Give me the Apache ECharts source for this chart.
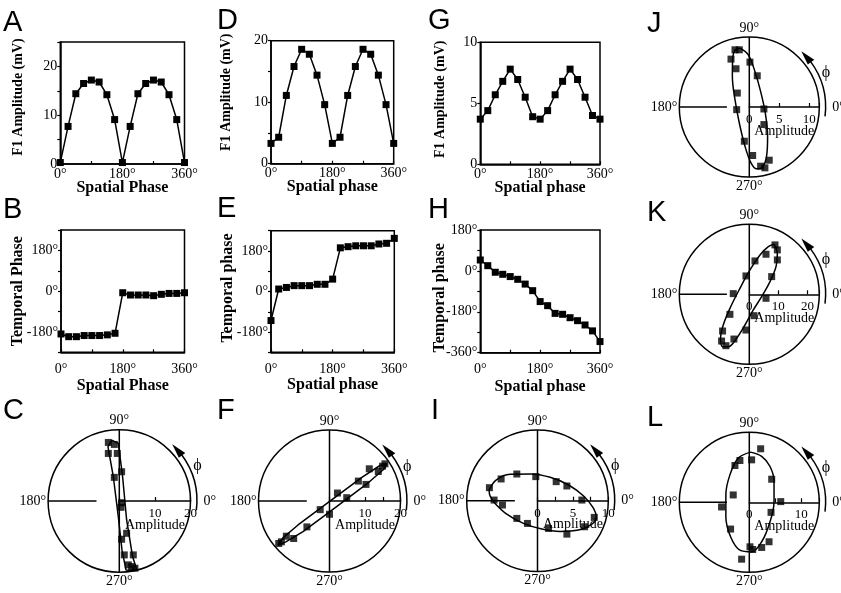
<!DOCTYPE html>
<html>
<head>
<meta charset="utf-8">
<script src="https://cdn.jsdelivr.net/npm/echarts@6/dist/echarts.min.js"></script>
<style>
  html, body { margin: 0; padding: 0; background: #fff; }
  #chart { width: 841px; height: 593px; }
</style>
</head>
<body>
<div id="chart"></div>
<script>
// ---------- data ----------
const spatialPhase = [0, 22.5, 45, 67.5, 90, 112.5, 135, 157.5, 180, 202.5, 225, 247.5, 270, 292.5, 315, 337.5, 360];

// F1 amplitude (mV) vs spatial phase
const ampA = [0.3, 7.7, 14.4, 16.5, 17.2, 16.8, 14.2, 9.1, 0.3, 7.7, 14.4, 16.5, 17.2, 16.8, 14.2, 9.1, 0.3];
const ampD = [3.3, 4.3, 11.1, 15.8, 18.6, 17.8, 14.4, 9.6, 3.3, 4.3, 11.1, 15.8, 18.6, 17.8, 14.4, 9.6, 3.3];
const ampG = [3.7, 4.4, 5.7, 6.8, 7.8, 6.95, 5.5, 3.9, 3.7, 4.4, 5.7, 6.8, 7.8, 6.95, 5.5, 4.0, 3.7];

// temporal phase (deg) vs spatial phase
const phaseB = [-189, -201, -201, -196, -196, -196, -193, -186, -7, -17, -17, -17, -20, -14, -10, -10, -7];
const phaseE = [-129, 11, 18, 26, 26, 26, 32, 32, 55, 194, 199, 203, 203, 203, 211, 214, 236];
const phaseH = [48, 23, -6, -15, -25, -37, -58, -87, -135, -153, -187, -191, -206, -219, -238, -264, -311];

// tick labels
const spatialTicks = [0, 180, 360];
const ampTicksA = [0, 10, 20];
const ampTicksD = [0, 10, 20];
const ampTicksG = [0, 5, 10];
const phaseTicksBE = [-180, 0, 180];
const phaseTicksH = [-360, -180, 0, 180];

// F1 response vectors: in-phase (X) and quadrature (Y) components, amplitude units
const cPtX = [-3.08, -1.40, -3.08, -0.56, 0.65, -1.40, 0.65, 0.47, 2.06, 0.65, 1.40, 3.93, 2.52, 3.46, 4.39];
const cPtY = [16.45, 15.89, 13.36, 13.36, 8.22, 6.64, -0.47, -1.78, -9.07, -10.75, -15.14, -15.14, -17.94, -18.41, -18.88];
const cFitX = [-2.15, -0.28, 0.93, 2.06, 3.74, 4.86, 3.55, 1.87, 0.75, -0.28, -1.68, -3.18, -2.15];
const cFitY = [17.10, 16.17, 6.82, -5.33, -15.61, -19.16, -19.53, -19.35, -13.74, -4.39, 6.82, 15.23, 17.10];

const fPtX = [-14.30, -13.55, -12.15, -10.09, -6.36, -2.62, 0.0, 2.24, 4.86, 8.13, 10.28, 11.21, 13.74, 14.95, 15.61];
const fPtY = [-11.96, -11.50, -9.91, -10.56, -7.29, -2.43, -3.74, 2.24, 0.93, 5.61, 4.67, 9.07, 8.32, 9.81, 10.47];
const fFitX = [-14.53, -13.14, -8.86, 0.13, 9.12, 14.22, 16.20, 15.12, 10.52, 1.53, -7.46, -12.30, -14.53];
const fFitY = [-12.43, -10.39, -6.75, -0.04, 6.67, 10.00, 10.49, 8.80, 4.80, -1.91, -8.62, -11.51, -12.43];

const iPtX = [-6.79, -5.14, -2.92, -0.24, 2.64, 4.15, 6.27, 8.02, 6.65, 4.15, 1.56, -1.42, -2.92, -4.95, -6.13];
const iPtY = [1.84, 3.07, 3.77, 3.40, 2.69, 2.08, 0.09, -2.36, -3.68, -4.72, -3.92, -3.21, -2.50, -0.61, 0.09];
const iFitX = [-6.84, -5.85, -3.87, -1.04, 1.79, 4.39, 6.51, 7.92, 8.30, 7.69, 5.80, 3.21, 0.61, -1.98, -4.34, -5.99, -6.70, -6.84];
const iFitY = [1.51, 2.92, 3.73, 3.77, 3.30, 2.22, 0.66, -1.08, -2.36, -3.30, -4.15, -4.34, -4.01, -3.21, -1.89, -0.38, 0.66, 1.51];

const jPtX = [-2.39, -1.67, -3.06, -2.22, 0.11, 1.33, -2.00, 2.44, -2.11, 2.44, -0.83, 0.56, 3.33, 1.89, 2.61];
const jPtY = [9.56, 9.56, 8.00, 6.39, 7.50, 5.22, 2.33, -0.33, -0.44, -2.94, -5.72, -8.11, -8.89, -9.89, -10.17];
const jFitX = [-1.56, -0.17, 0.94, 1.89, 2.67, 3.06, 2.89, 2.22, 1.22, 0.28, -0.72, -1.67, -2.39, -2.83, -2.78, -2.33, -1.56];
const jFitY = [9.83, 8.72, 5.94, 2.61, -1.00, -4.89, -8.22, -10.06, -10.33, -9.33, -6.56, -2.67, 1.22, 5.11, 8.17, 9.56, 9.83];

const kPtX = [8.85, 9.66, 9.66, 5.75, 1.95, 7.70, -1.15, -5.52, 5.75, 1.61, -6.67, -1.15, -9.20, -9.54, -8.05, -5.29];
const kPtY = [17.01, 15.29, 11.84, 13.79, 11.49, 6.09, 6.32, 0.23, -1.38, -7.36, -6.90, -12.30, -12.64, -16.09, -17.70, -15.40];
const kFitX = [8.51, 9.66, 9.20, 7.13, 4.25, 1.38, -1.49, -4.37, -7.24, -9.20, -9.89, -8.97, -6.67, -3.22, 0.23, 3.68, 6.55, 8.51];
const kFitY = [17.24, 14.14, 9.54, 4.37, -0.80, -5.40, -10.57, -15.17, -18.05, -18.05, -15.17, -10.57, -4.83, 2.07, 8.39, 13.56, 16.44, 17.24];

const lPtX = [2.19, -1.81, -2.77, 0.45, 4.32, -3.10, -5.35, 6.06, 4.19, -3.61, 0.13, 0.65, 2.39, 3.81, -1.48];
const lPtY = [10.32, 8.06, 7.10, 8.19, 4.45, 1.42, -0.90, 0.13, -1.94, -5.16, -8.58, -9.10, -8.71, -7.61, -10.97];
const lFitX = [0.26, 2.39, 4.00, 4.77, 4.77, 4.00, 2.39, 0.45, -1.81, -3.61, -4.52, -4.52, -3.74, -2.13, 0.26];
const lFitY = [9.68, 8.84, 6.90, 4.00, 0.13, -3.74, -7.61, -9.55, -9.23, -6.65, -2.77, 1.42, 5.29, 8.52, 9.68];

const radialTicksCF = [10, 20];
const radialTicksI = [0, 5, 10];
const radialTicksJ = [0, 5, 10];
const radialTicksK = [0, 10, 20];
const radialTicksL = [0, 10];

// ---------- styling ----------
const SERIF = '"Liberation Serif","Times New Roman",Times,serif';
const SANS = '"Liberation Sans",Arial,Helvetica,sans-serif';
const INK = '#000';

const grids = [], xAxes = [], yAxes = [];
const polars = [], angleAxes = [], radiusAxes = [];
const series = [], graphics = [];

function addCartesian(p) {
  const i = grids.length;
  grids.push({
    left: p.box[0], top: p.box[1], width: p.box[2], height: p.box[3],
    show: true, borderColor: INK, borderWidth: 1.5, backgroundColor: 'transparent',
    containLabel: false, outerBoundsMode: 'none'
  });
  xAxes.push({
    gridIndex: i, type: 'value', min: 0, max: 360, interval: 90,
    name: p.xName, nameLocation: 'middle', nameGap: p.xNameGap, nameMoveOverlap: false,
    nameTextStyle: { fontFamily: SERIF, fontSize: 16, fontWeight: 'bold', color: INK },
    axisLine: { onZero: false, lineStyle: { color: INK, width: 1.5 } },
    axisTick: { inside: true, length: 3, lineStyle: { color: INK, width: 1.2 } },
    axisLabel: { margin: p.xLabelMargin, fontFamily: SERIF, fontSize: 14, color: INK,
      formatter: v => spatialTicks.includes(v) ? v + '°' : '' },
    splitLine: { show: false }
  });
  yAxes.push({
    gridIndex: i, type: 'value', min: p.y.min, max: p.y.max, interval: p.y.interval,
    name: p.yName, nameLocation: 'middle', nameGap: p.yNameGap, nameMoveOverlap: false,
    nameTextStyle: { fontFamily: SERIF, fontSize: p.yNameSize, fontWeight: 'bold', color: INK, padding: p.yNamePad },
    axisLine: { onZero: false, lineStyle: { color: INK, width: 1.5 } },
    axisTick: { inside: false, length: 3, lineStyle: { color: INK, width: 1.2 } },
    axisLabel: { margin: 3, fontFamily: SERIF, fontSize: 14, color: INK,
      formatter: v => p.y.ticks.includes(v) ? v + p.y.unit : '' },
    splitLine: { show: false }
  });
  series.push({
    type: 'line', xAxisIndex: i, yAxisIndex: i,
    data: spatialPhase.map((x, k) => [x, p.values[k]]),
    symbol: 'rect', symbolSize: 7, showAllSymbol: true,
    lineStyle: { color: INK, width: 1.5 }, itemStyle: { color: INK },
    clip: false, silent: true
  });
}

function toPolar(xs, ys) {
  return xs.map((x, k) => {
    const y = ys[k];
    let a = Math.atan2(y, x) * 180 / Math.PI;
    if (a < 0) a += 360;
    return [Math.hypot(x, y), a];
  });
}

function addPolar(p) {
  const i = polars.length;
  polars.push({ center: [p.cx, p.cy], radius: p.r });
  angleAxes.push({
    polarIndex: i, type: 'value', min: 0, max: 360, interval: 90,
    startAngle: 0, clockwise: false,
    axisLine: { lineStyle: { color: INK, width: 1.5 } },
    axisTick: { show: false }, splitLine: { show: false },
    axisLabel: {
      margin: 2, color: INK, fontFamily: SERIF, fontSize: 14,
      formatter: v => v === 0 ? '{z|0°}' : (v === 360 ? '' : v + '°'),
      rich: { z: { padding: [0, 0, 0, 11], fontFamily: SERIF, fontSize: 14, color: INK } }
    }
  });
  radiusAxes.push({
    polarIndex: i, type: 'value', min: 0, max: p.max, interval: p.interval,
    axisLine: { lineStyle: { color: INK, width: 1.5 } },
    axisTick: { show: true, length: 4, lineStyle: { color: INK, width: 1.2 } },
    splitLine: { show: false },
    axisLabel: { margin: -19, fontFamily: SERIF, fontSize: 13, color: INK,
      formatter: v => p.labels.includes(v) ? String(v) : '' },
    name: 'Amplitude', nameLocation: 'middle', nameGap: 17, nameMoveOverlap: false,
    nameTextStyle: { fontFamily: SERIF, fontSize: 14, color: INK }
  });
  const guide = { type: 'line', coordinateSystem: 'polar', polarIndex: i, symbol: 'none',
    lineStyle: { color: INK, width: 1.5 }, silent: true, clip: false };
  series.push(Object.assign({}, guide, { data: [[p.max, 90], [p.max, 270]] }));
  series.push(Object.assign({}, guide, { data: [[p.max * 0.32, 180], [p.max, 180]] }));
  series.push({
    type: 'line', coordinateSystem: 'polar', polarIndex: i,
    data: toPolar(p.fit[0], p.fit[1]), symbol: 'none', smooth: p.smooth,
    lineStyle: { color: INK, width: 1.5 }, silent: true, clip: false
  });
  series.push({
    type: 'scatter', coordinateSystem: 'polar', polarIndex: i,
    data: toPolar(p.pts[0], p.pts[1]), symbol: 'rect', symbolSize: 7,
    itemStyle: { color: INK }, silent: true, clip: false
  });

  // rotation-direction arrow and phi label beside the 0° side
  const rad = Math.PI / 180;
  const ra = p.r * 1.09;
  const pt = (a, rr) => [p.cx + rr * Math.cos(a * rad), p.cy - rr * Math.sin(a * rad)];
  graphics.push({
    type: 'arc', silent: true,
    shape: { cx: p.cx, cy: p.cy, r: ra, startAngle: -37 * rad, endAngle: 7 * rad, clockwise: true },
    style: { stroke: INK, lineWidth: 1.5, fill: null }
  });
  graphics.push({
    type: 'polygon', silent: true,
    shape: { points: [pt(47, ra), pt(36, ra - 4), pt(36, ra + 4)] },
    style: { fill: INK }
  });
  const ph = pt(24, p.r * 1.2);
  graphics.push({
    type: 'text', silent: true, x: ph[0], y: ph[1],
    style: { text: 'ϕ', font: '16px ' + SERIF, fill: INK, align: 'center', verticalAlign: 'middle' }
  });
}

// ---------- panels ----------
addCartesian({ box: [60.3, 42, 124.2, 122], values: ampA,
  y: { min: 0, max: 25, interval: 5, ticks: ampTicksA, unit: '' },
  yName: 'F1 Amplitude (mV)', yNameSize: 14, yNameGap: 35, yNamePad: [0, 0, 0, 12],
  xName: 'Spatial Phase', xNameGap: 16, xLabelMargin: 3 });
addCartesian({ box: [61, 230, 123.5, 122.3], values: phaseB,
  y: { min: -270, max: 270, interval: 90, ticks: phaseTicksBE, unit: '°' },
  yName: 'Temporal Phase', yNameSize: 16, yNameGap: 35, yNamePad: [0, 0, 0, 0],
  xName: 'Spatial Phase', xNameGap: 26, xLabelMargin: 10 });
addCartesian({ box: [271, 40.7, 122.7, 123], values: ampD,
  y: { min: 0, max: 20, interval: 5, ticks: ampTicksD, unit: '' },
  yName: 'F1 Amplitude (mV)', yNameSize: 14, yNameGap: 38, yNamePad: [0, 0, 0, 20],
  xName: 'Spatial phase', xNameGap: 15, xLabelMargin: 3 });
addCartesian({ box: [271, 230.7, 123.3, 121.6], values: phaseE,
  y: { min: -270, max: 270, interval: 90, ticks: phaseTicksBE, unit: '°' },
  yName: 'Temporal phase', yNameSize: 16, yNameGap: 35, yNamePad: [0, 0, 0, 7],
  xName: 'Spatial phase', xNameGap: 25, xLabelMargin: 10 });
addCartesian({ box: [480.3, 42.3, 119.7, 122], values: ampG,
  y: { min: 0, max: 10, interval: 5, ticks: ampTicksG, unit: '' },
  yName: 'F1 Amplitude (mV)', yNameSize: 14, yNameGap: 33, yNamePad: [0, 0, 0, 8],
  xName: 'Spatial phase', xNameGap: 16, xLabelMargin: 3 });
addCartesian({ box: [480.3, 230, 119.7, 122.7], values: phaseH,
  y: { min: -360, max: 180, interval: 90, ticks: phaseTicksH, unit: '°' },
  yName: 'Temporal phase', yNameSize: 16, yNameGap: 32, yNamePad: [0, 13, 0, 0],
  xName: 'Spatial phase', xNameGap: 26, xLabelMargin: 10 });

addPolar({ cx: 119.3, cy: 501, r: 71.2, max: 20, interval: 10, labels: radialTicksCF,
  pts: [cPtX, cPtY], fit: [cFitX, cFitY], smooth: false });
addPolar({ cx: 329.5, cy: 501, r: 71, max: 20, interval: 5, labels: radialTicksCF,
  pts: [fPtX, fPtY], fit: [fFitX, fFitY], smooth: false });
addPolar({ cx: 537.5, cy: 500.7, r: 70.8, max: 10, interval: 2.5, labels: radialTicksI,
  pts: [iPtX, iPtY], fit: [iFitX, iFitY], smooth: 0.35 });
addPolar({ cx: 749.3, cy: 107, r: 70, max: 11.7, interval: 5, labels: radialTicksJ,
  pts: [jPtX, jPtY], fit: [jFitX, jFitY], smooth: 0.35 });
addPolar({ cx: 749.3, cy: 294.3, r: 70, max: 24.1, interval: 10, labels: radialTicksK,
  pts: [kPtX, kPtY], fit: [kFitX, kFitY], smooth: 0.35 });
addPolar({ cx: 749.3, cy: 502.3, r: 70, max: 13.5, interval: 5, labels: radialTicksL,
  pts: [lPtX, lPtY], fit: [lFitX, lFitY], smooth: 0.35 });

// panel letters
const panelLetters = [
  ['A', 3, 23.3], ['B', 3, 210], ['C', 3, 410.5],
  ['D', 217, 21], ['E', 217, 209], ['F', 217, 411],
  ['G', 428, 21], ['H', 428, 210], ['I', 431, 411],
  ['J', 647, 24], ['K', 647, 212.5], ['L', 647, 417.5]
];
panelLetters.forEach(([t, x, y]) => graphics.push({
  type: 'text', silent: true, x: x, y: y,
  style: { text: t, font: '29px ' + SANS, fill: INK, align: 'left', verticalAlign: 'middle' }
}));

const chart = echarts.init(document.getElementById('chart'), null, { renderer: 'canvas' });
chart.setOption({
  animation: false,
  backgroundColor: '#fff',
  textStyle: { fontFamily: SERIF, color: INK },
  grid: grids, xAxis: xAxes, yAxis: yAxes,
  polar: polars, angleAxis: angleAxes, radiusAxis: radiusAxes,
  series: series,
  graphic: { elements: graphics }
});
</script>
</body>
</html>
